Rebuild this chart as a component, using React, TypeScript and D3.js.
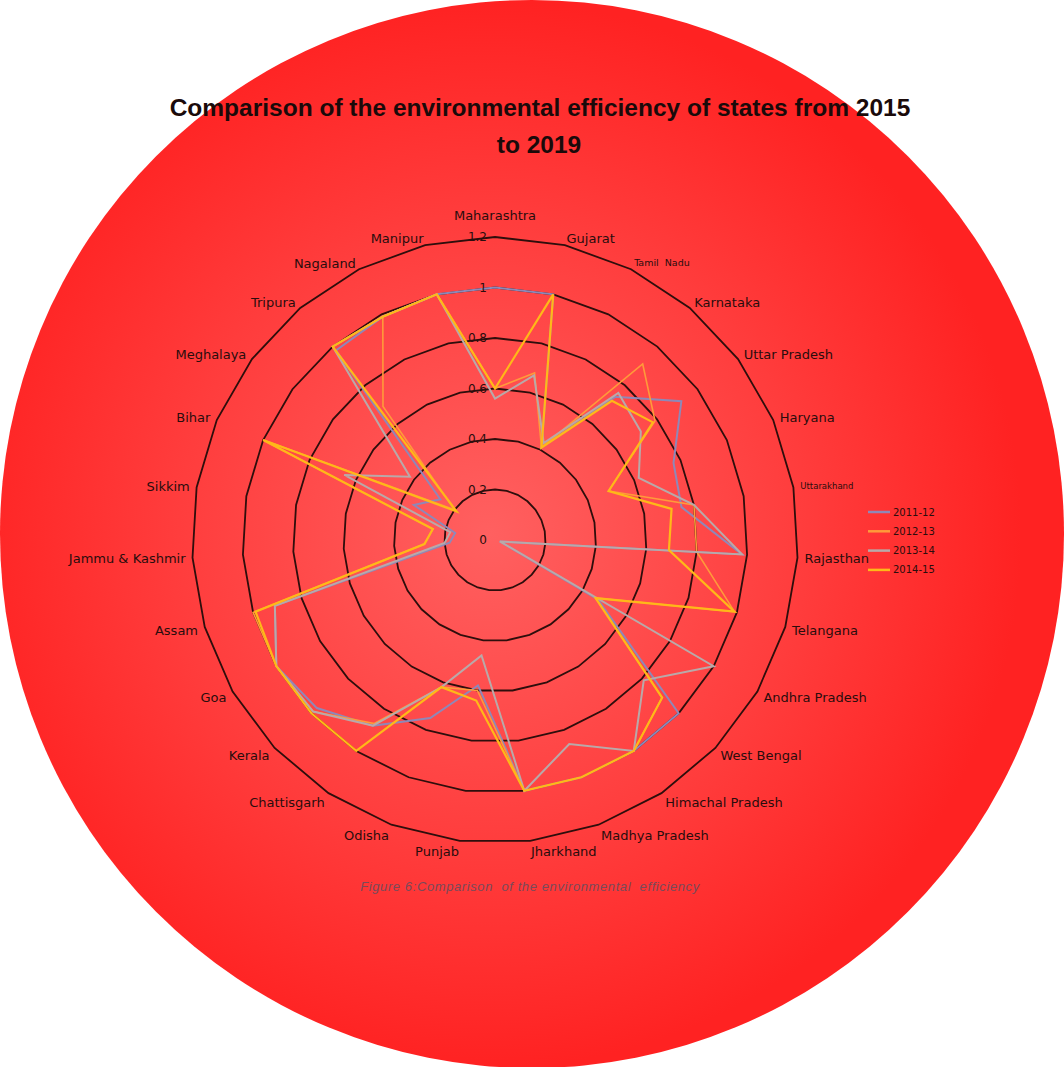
import React from "react";
import * as d3 from "d3";

const categories = [
  "Maharashtra", "Gujarat", "Tamil  Nadu", "Karnataka", "Uttar Pradesh", "Haryana",
  "Uttarakhand", "Rajasthan", "Telangana", "Andhra Pradesh", "West Bengal",
  "Himachal Pradesh", "Madhya Pradesh", "Jharkhand", "Punjab", "Odisha", "Chattisgarh",
  "Kerala", "Goa", "Assam", "Jammu & Kashmir", "Sikkim", "Bihar", "Meghalaya",
  "Tripura", "Nagaland", "Manipur",
];

const seriesNames = ["2011-12", "2012-13", "2013-14", "2014-15"];

const v2011 = [1.0, 1.0, 0.41, 0.74, 0.92, 0.77, 0.75, 0.98, 0.02, 0.47, 1.0, 1.0, 1.0, 1.0, 0.58, 0.75, 0.88, 0.97, 1.0, 0.91, 0.18, 0.16, 0.35, 0.27, 0.98, 0.99, 1.0];
const v2012 = [0.6, 0.68, 0.41, 0.91, 0.79, 0.49, 0.8, 0.8, 0.99, 0.46, 0.91, 1.0, 1.0, 1.0, 0.6, 0.62, 0.87, 0.99, 1.0, 1.0, 0.28, 0.25, 1.0, 0.2, 0.69, 0.99, 1.0];
const v2013 = [0.56, 0.67, 0.43, 0.76, 0.72, 0.62, 0.8, 0.98, 0.02, 1.0, 0.81, 1.0, 0.86, 1.0, 0.46, 0.62, 0.88, 0.99, 1.0, 0.91, 0.2, 0.18, 0.65, 0.42, 1.0, 0.99, 1.0];
const v2014 = [0.6, 1.0, 0.41, 0.72, 0.78, 0.49, 0.71, 0.69, 0.99, 0.46, 0.91, 1.0, 1.0, 1.0, 0.64, 0.62, 1.0, 1.0, 1.0, 0.99, 0.28, 0.25, 1.0, 0.19, 1.0, 0.99, 1.0];

const tickValues = [0, 0.2, 0.4, 0.6, 0.8, 1, 1.2];
const tickLabels = ["0", "0.2", "0.4", "0.6", "0.8", "1", "1.2"];

const seriesColors = ["#8f88b8", "#ff9a3a", "#b9a9a9", "#ffb818"];
const seriesWidths = [2, 1.6, 2, 2.2];

const W = 1064;
const H = 1067;
const cx = 495;
const cy = 540;
const R = 303;

export default function App() {
  const r = d3.scaleLinear().domain([0, 1.2]).range([0, R]);
  const n = categories.length;
  const angle = d3.scaleLinear().domain([0, n]).range([0, 2 * Math.PI]);
  const series = [v2011, v2012, v2013, v2014];

  const radial = d3
    .lineRadial<number>()
    .angle((_, i) => angle(i))
    .radius((d) => r(d))
    .curve(d3.curveLinearClosed);

  const ring = (v: number) =>
    d3
      .lineRadial<number>()
      .angle((_, i) => angle(i))
      .radius(() => r(v))
      .curve(d3.curveLinearClosed)(d3.range(n)) as string;

  const labelFont = "'DejaVu Sans', Verdana, sans-serif";

  return (
    <div style={{ position: "absolute", left: 0, top: 0 }}>
      <svg width={W} height={H} style={{ display: "block" }}>
        <defs>
          <radialGradient id="bg" cx="0.46" cy="0.5" r="0.5">
            <stop offset="0" stopColor="#ff6060" />
            <stop offset="0.6" stopColor="#ff3c3c" />
            <stop offset="1" stopColor="#ff2222" />
          </radialGradient>
        </defs>
        <rect width={W} height={H} fill="#ffffff" />
        <ellipse cx={532} cy={534} rx={532} ry={534} fill="url(#bg)" />

        <text
          x={540}
          y={116}
          textAnchor="middle"
          fontFamily="'Liberation Sans', Arial, sans-serif"
          fontWeight="bold"
          fontSize={24.5}
          fill="#1a0a0a"
        >
          Comparison of the environmental efficiency of states from 2015
        </text>
        <text
          x={539}
          y={153}
          textAnchor="middle"
          fontFamily="'Liberation Sans', Arial, sans-serif"
          fontWeight="bold"
          fontSize={24.5}
          fill="#1a0a0a"
        >
          to 2019
        </text>

        <g transform={`translate(${cx},${cy})`}>
          {tickValues.slice(1).map((t) => (
            <path key={t} d={ring(t)} fill="none" stroke="#2e0e0c" strokeWidth={1.8} />
          ))}
          {series.map((s, si) => (
            <path
              key={si}
              d={radial(s) as string}
              fill="none"
              stroke={seriesColors[si]}
              strokeWidth={seriesWidths[si]}
              strokeLinejoin="miter"
            />
          ))}
          {tickValues.map((t, i) => (
            <text
              key={t}
              x={-8}
              y={-r(t)}
              dy="0.35em"
              textAnchor="end"
              fontFamily={labelFont}
              fontSize={12}
              fill="#2a0d0d"
            >
              {tickLabels[i]}
            </text>
          ))}
          {categories.map((c, i) => {
            const a = angle(i);
            const s = Math.sin(a);
            const co = Math.cos(a);
            const rr = R + 7;
            let x = rr * s;
            let y = -rr * co;
            let anchor: "start" | "middle" | "end" = "middle";
            if (Math.abs(s) < 0.05) {
              anchor = "middle";
              y = -R - 22;
            } else if (s > 0) {
              anchor = "start";
            } else {
              anchor = "end";
            }
            y += co < 0 ? -co * 4 : 0;
            let fs = 13;
            if (c === "Uttarakhand") fs = 8.5;
            if (c === "Tamil  Nadu") fs = 9.5;
            return (
              <text
                key={c}
                x={x}
                y={y}
                dy="0.35em"
                textAnchor={anchor}
                fontFamily={labelFont}
                fontSize={fs}
                fill="#2a0d0d"
                style={{ whiteSpace: "pre" }}
              >
                {c}
              </text>
            );
          })}
        </g>

        <g>
          {seriesNames.map((name, i) => (
            <g key={name} transform={`translate(868,${512 + i * 19.3})`}>
              <line x1={0} x2={22} y1={0} y2={0} stroke={seriesColors[i]} strokeWidth={2.5} />
              <text x={25} y={0} dy="0.35em" fontFamily={labelFont} fontSize={10} fill="#2a0d0d">
                {name}
              </text>
            </g>
          ))}
        </g>

        <text
          x={530}
          y={891}
          textAnchor="middle"
          fontFamily="'Liberation Sans', Arial, sans-serif"
          fontStyle="italic"
          fontSize={13}
          letterSpacing={0.6}
          fill="#7a4a5a"
          style={{ whiteSpace: "pre" }}
        >
          {"Figure 6:Comparison  of the environmental  efficiency"}
        </text>
      </svg>
    </div>
  );
}
